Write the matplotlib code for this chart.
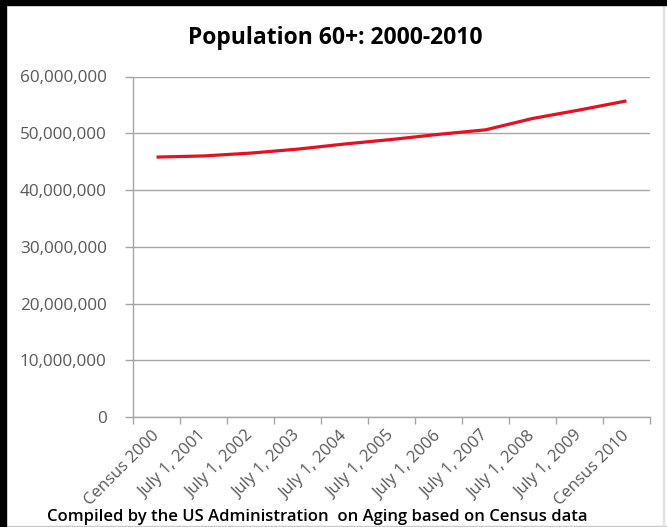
import numpy as np
import matplotlib
matplotlib.use("Agg")
import matplotlib.pyplot as plt
from matplotlib.patches import Rectangle
from matplotlib.ticker import FuncFormatter, MultipleLocator, FixedLocator

# Population aged 60 and over, millions
categories = ["Census 2000", "July 1, 2001", "July 1, 2002", "July 1, 2003",
              "July 1, 2004", "July 1, 2005", "July 1, 2006", "July 1, 2007",
              "July 1, 2008", "July 1, 2009", "Census 2010"]
population_m = [45.8, 46.0, 46.5, 47.2, 48.1, 48.9, 49.8, 50.6, 52.6, 54.1, 55.7]

title = "Population 60+: 2000-2010"
footer = "Compiled by the US Administration  on Aging based on Census data"

W, H = 667, 527
fig = plt.figure(figsize=(W / 100, H / 100), dpi=100)
fig.patch.set_facecolor("white")

ax = fig.add_axes([133 / W, 1 - 417 / H, (650 - 133) / W, (417 - 76.5) / H])

x = np.arange(len(categories))
y = np.array(population_m) * 1e6
ax.plot(x, y, color="#e8101e", lw=2.3, solid_capstyle="butt", zorder=3)

grid_col = "#a6a6a6"
label_col = "#595959"
font = "Open Sans"

ax.set_xlim(-0.5, len(categories) - 0.5)
ax.set_ylim(0, 60e6)
ax.yaxis.set_major_locator(MultipleLocator(10e6))
ax.yaxis.set_major_formatter(FuncFormatter(lambda v, _: f"{int(v):,}"))
ax.grid(axis="y", color=grid_col, lw=1)
ax.set_axisbelow(True)

ax.set_xticks(x)
ax.set_xticklabels(categories, rotation=45, ha="right", va="center",
                   rotation_mode="anchor", fontsize=12, color=label_col,
                   family=font)
ax.tick_params(axis="x", which="major", length=0, pad=12)
ax.xaxis.set_minor_locator(FixedLocator(np.arange(-0.5, len(categories), 1.0)))
ax.tick_params(axis="x", which="minor", length=5, color=grid_col, width=1)

ax.tick_params(axis="y", length=6, color=grid_col, width=1, pad=13,
               labelsize=12.3, labelcolor=label_col)
for lab in ax.get_yticklabels():
    lab.set_family(font)

for side in ("top", "right"):
    ax.spines[side].set_visible(False)
for side in ("left", "bottom"):
    ax.spines[side].set_color(grid_col)
    ax.spines[side].set_linewidth(1)

fig.text(0.502, 1 - 38 / H, title, ha="center", va="center",
         fontsize=16.5, fontweight="bold", family=font, color="black")
fig.text(47 / W, 1 - 517 / H, footer, ha="left", va="center",
         fontsize=12, fontweight="semibold", family=font, color="black")

# frame around the picture
fig.patches.append(Rectangle((0, 0), 6 / W, 1, transform=fig.transFigure,
                             color="black", zorder=5))
fig.patches.append(Rectangle((0, 1 - 5 / H), 1, 5 / H, transform=fig.transFigure,
                             color="black", zorder=5))
fig.patches.append(Rectangle((0, 0), 1, 1.5 / H, transform=fig.transFigure,
                             color="#c8c8c8", zorder=4))
fig.patches.append(Rectangle((1 - 4 / W, 0), 1.2 / W, 1, transform=fig.transFigure,
                             color="#e0e0e0", zorder=4))

fig.savefig("out.png", dpi=100)
